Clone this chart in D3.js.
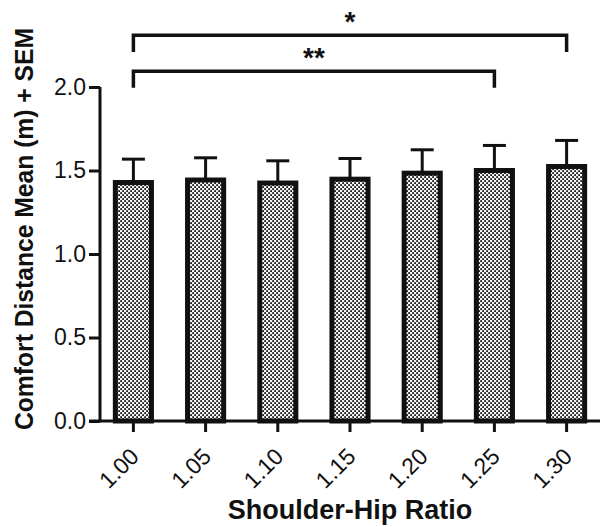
<!DOCTYPE html>
<html lang="en">
  <head>
    <meta charset="UTF-8" />
    <title>Comfort distance</title>
    <style>
      body {
        margin: 0;
        background: #fff;
      }
      svg text {
        font-family: 'Liberation Sans', Arial, sans-serif;
        fill: #111;
      }
    </style>
  </head>
  <body>
    <svg id="chart" width="602" height="527"></svg>
    <script src="https://cdn.jsdelivr.net/npm/d3@7/dist/d3.min.js"></script>
    <script>
      // values
      const ratios = ['1.00', '1.05', '1.10', '1.15', '1.20', '1.25', '1.30'];
      const means = [1.428, 1.443, 1.425, 1.448, 1.484, 1.5, 1.524];
      const sems = [0.14, 0.133, 0.133, 0.124, 0.14, 0.15, 0.156];
      const yTicks = [0, 0.5, 1.0, 1.5, 2.0];
      // significance brackets: from, to, label, height in data units
      const sigFrom = ['1.00', '1.00'];
      const sigTo = ['1.30', '1.25'];
      const sigLabels = ['*', '**'];
      const sigLevels = [2.31, 2.095];

      const data = ratios.map((r, i) => ({ ratio: r, mean: means[i], sem: sems[i] }));

      const svg = d3.select('#chart');
      const plotLeft = 100,
        plotRight = 600,
        plotTop = 87,
        plotBottom = 421;

      // dotted fill
      const defs = svg.append('defs');
      const pat = defs
        .append('pattern')
        .attr('id', 'dots')
        .attr('patternUnits', 'userSpaceOnUse')
        .attr('width', 4)
        .attr('height', 4);
      pat.append('rect').attr('width', 4).attr('height', 4).attr('fill', '#f4f4f4');
      pat.append('rect').attr('x', 0.2).attr('y', 0.2).attr('width', 1.8).attr('height', 1.8).attr('fill', '#1a1a1a');
      pat.append('rect').attr('x', 2.2).attr('y', 2.2).attr('width', 1.8).attr('height', 1.8).attr('fill', '#1a1a1a');

      const x = d3
        .scaleBand()
        .domain(ratios)
        .range([plotLeft, plotRight])
        .paddingInner(0.5)
        .paddingOuter(0.2125);

      const y = d3.scaleLinear().domain([0, 2]).range([plotBottom, plotTop]);

      // bars
      svg
        .append('g')
        .selectAll('rect')
        .data(data)
        .join('rect')
        .attr('x', (d) => x(d.ratio))
        .attr('y', (d) => y(d.mean))
        .attr('width', x.bandwidth())
        .attr('height', (d) => y(0) - y(d.mean))
        .attr('fill', 'url(#dots)')
        .attr('stroke', '#111')
        .attr('stroke-width', 5);

      // error bars (upper only)
      const err = svg.append('g').attr('stroke', '#111').attr('stroke-width', 3);
      err
        .selectAll('line.stem')
        .data(data)
        .join('line')
        .attr('class', 'stem')
        .attr('x1', (d) => x(d.ratio) + x.bandwidth() / 2)
        .attr('x2', (d) => x(d.ratio) + x.bandwidth() / 2)
        .attr('y1', (d) => y(d.mean))
        .attr('y2', (d) => y(d.mean + d.sem));
      err
        .selectAll('line.cap')
        .data(data)
        .join('line')
        .attr('class', 'cap')
        .attr('x1', (d) => x(d.ratio) + x.bandwidth() / 2 - 11.5)
        .attr('x2', (d) => x(d.ratio) + x.bandwidth() / 2 + 11.5)
        .attr('y1', (d) => y(d.mean + d.sem))
        .attr('y2', (d) => y(d.mean + d.sem));

      // y axis
      const yAxis = svg
        .append('g')
        .attr('transform', `translate(${plotLeft},0)`)
        .call(d3.axisLeft(y).tickValues(yTicks).tickFormat(d3.format('.1f')).tickSize(11).tickPadding(3));
      yAxis.select('.domain').attr('stroke', '#111').attr('stroke-width', 3).attr('d', `M0,${plotBottom}V${plotTop}`);
      yAxis.selectAll('.tick line').attr('stroke', '#111').attr('stroke-width', 3);
      yAxis.selectAll('.tick text').attr('font-size', 23).attr('fill', '#111');

      // x axis
      const xAxis = svg
        .append('g')
        .attr('transform', `translate(0,${plotBottom})`)
        .call(d3.axisBottom(x).tickSize(11).tickSizeOuter(0));
      xAxis.select('.domain').attr('stroke', '#111').attr('stroke-width', 3).attr('d', `M${plotLeft - 11},0H${plotRight}`);
      xAxis.selectAll('.tick line').attr('stroke', '#111').attr('stroke-width', 3);
      xAxis
        .selectAll('.tick text')
        .attr('font-size', 23)
        .attr('fill', '#111')
        .attr('text-anchor', 'end')
        .attr('dy', 0)
        .attr('y', 0)
        .attr('transform', 'translate(7,37) rotate(-45)');

      // axis titles
      svg
        .append('text')
        .attr('x', 350)
        .attr('y', 519)
        .attr('text-anchor', 'middle')
        .attr('font-size', 27)
        .attr('font-weight', 'bold')
        .text('Shoulder-Hip Ratio');

      svg
        .append('text')
        .attr('transform', 'translate(33,229) rotate(-90)')
        .attr('text-anchor', 'middle')
        .attr('font-size', 26)
        .attr('font-weight', 'bold')
        .attr('textLength', 402)
        .attr('lengthAdjust', 'spacingAndGlyphs')
        .text('Comfort Distance Mean (m) + SEM');

      // significance brackets
      const sig = svg.append('g');
      sigFrom.forEach((f, i) => {
        const x1 = x(f) + x.bandwidth() / 2;
        const x2 = x(sigTo[i]) + x.bandwidth() / 2;
        const yy = y(sigLevels[i]);
        const yd = y(sigLevels[i] - 0.1);
        sig
          .append('path')
          .attr('d', `M${x1},${yd}V${yy}H${x2}V${yd}`)
          .attr('fill', 'none')
          .attr('stroke', '#111')
          .attr('stroke-width', 3.5);
        sig
          .append('text')
          .attr('x', (x1 + x2) / 2)
          .attr('y', yy - 4)
          .attr('text-anchor', 'middle')
          .attr('font-size', 28)
          .attr('font-weight', 'bold')
          .text(sigLabels[i]);
      });
    </script>
  </body>
</html>
